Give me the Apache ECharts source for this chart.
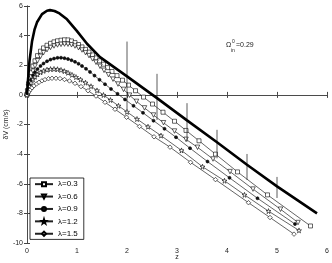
<!DOCTYPE html>
<html><head><meta charset="utf-8">
<script src="https://cdn.jsdelivr.net/npm/echarts@6/dist/echarts.min.js"></script>
<style>html,body{margin:0;padding:0;background:#fff}#c{width:332px;height:263px}</style>
</head><body><div id="c"></div>
<script>
// thick reference curve (no markers)
var zT = [0, 0.02, 0.05, 0.1, 0.15, 0.2, 0.3, 0.4, 0.46, 0.55, 0.65, 0.8, 1.0, 1.2, 1.46, 2.0, 2.6, 3.2, 3.8, 4.4, 5.0, 5.8];
var vT = [0, 1.0, 2.3, 3.6, 4.4, 4.9, 5.45, 5.68, 5.72, 5.66, 5.5, 5.1, 4.3, 3.45, 2.55, 1.25, -0.22, -1.72, -3.2, -4.72, -6.18, -8.0];
// lambda = 0.3
var z1 = [0, 0.01, 0.03, 0.05, 0.08, 0.12, 0.16, 0.21, 0.27, 0.33, 0.4, 0.47, 0.54, 0.61, 0.68, 0.75, 0.82, 0.89, 0.96, 1.03, 1.1, 1.17, 1.24, 1.31, 1.38, 1.45, 1.53, 1.61, 1.7, 1.8, 1.91, 2.03, 2.17, 2.33, 2.51, 2.72, 2.95, 3.18, 3.44, 3.77, 4.21, 4.81, 5.67];
var v1 = [0, 0.3, 0.75, 1.1, 1.5, 1.95, 2.3, 2.65, 2.95, 3.17, 3.35, 3.48, 3.58, 3.65, 3.69, 3.72, 3.71, 3.64, 3.53, 3.4, 3.24, 3.07, 2.89, 2.7, 2.5, 2.3, 2.07, 1.84, 1.58, 1.3, 0.99, 0.66, 0.28, -0.15, -0.62, -1.17, -1.78, -2.4, -3.1, -4.0, -5.2, -6.75, -8.85];
// lambda = 0.6
var z2 = [0, 0.01, 0.03, 0.05, 0.08, 0.12, 0.16, 0.21, 0.27, 0.33, 0.4, 0.47, 0.54, 0.61, 0.68, 0.75, 0.82, 0.89, 0.96, 1.03, 1.1, 1.17, 1.24, 1.31, 1.38, 1.46, 1.54, 1.63, 1.72, 1.82, 1.93, 2.05, 2.19, 2.35, 2.53, 2.73, 2.95, 3.18, 3.41, 3.72, 4.06, 4.52, 5.07, 5.42];
var v2 = [0, 0.22, 0.55, 0.85, 1.2, 1.6, 1.95, 2.3, 2.6, 2.85, 3.05, 3.2, 3.3, 3.37, 3.41, 3.43, 3.42, 3.38, 3.3, 3.18, 3.03, 2.85, 2.65, 2.43, 2.2, 1.93, 1.66, 1.36, 1.06, 0.73, 0.37, -0.02, -0.44, -0.88, -1.36, -1.88, -2.44, -3.0, -3.54, -4.33, -5.18, -6.36, -7.72, -8.62];
// lambda = 0.9
var z3 = [0, 0.01, 0.03, 0.05, 0.08, 0.12, 0.16, 0.21, 0.27, 0.33, 0.4, 0.47, 0.54, 0.61, 0.68, 0.75, 0.82, 0.89, 0.96, 1.03, 1.1, 1.18, 1.26, 1.35, 1.45, 1.56, 1.68, 1.81, 1.96, 2.13, 2.32, 2.53, 2.75, 2.98, 3.26, 3.61, 4.05, 4.61, 5.36];
var v3 = [0, 0.2, 0.5, 0.75, 1.02, 1.3, 1.52, 1.74, 1.95, 2.12, 2.27, 2.38, 2.45, 2.5, 2.51, 2.48, 2.42, 2.34, 2.23, 2.1, 1.95, 1.76, 1.55, 1.3, 1.02, 0.72, 0.4, 0.07, -0.31, -0.74, -1.21, -1.74, -2.29, -2.86, -3.6, -4.5, -5.6, -6.98, -8.72];
// lambda = 1.2
var z4 = [0, 0.01, 0.03, 0.05, 0.08, 0.12, 0.16, 0.21, 0.27, 0.33, 0.4, 0.47, 0.54, 0.61, 0.68, 0.75, 0.82, 0.9, 0.98, 1.07, 1.17, 1.28, 1.4, 1.53, 1.67, 1.83, 2.0, 2.2, 2.42, 2.68, 3.09, 3.51, 3.95, 4.35, 4.83, 5.44];
var v4 = [0, 0.14, 0.38, 0.58, 0.82, 1.05, 1.22, 1.38, 1.52, 1.62, 1.7, 1.74, 1.75, 1.73, 1.68, 1.6, 1.49, 1.35, 1.2, 1.03, 0.82, 0.58, 0.3, -0.01, -0.35, -0.74, -1.15, -1.63, -2.15, -2.75, -3.75, -4.85, -5.8, -6.75, -7.85, -9.15];
// lambda = 1.5
var z5 = [0, 0.02, 0.04, 0.07, 0.1, 0.14, 0.19, 0.24, 0.3, 0.36, 0.43, 0.5, 0.58, 0.66, 0.75, 0.85, 0.96, 1.08, 1.22, 1.38, 1.56, 1.76, 1.99, 2.25, 2.54, 2.86, 3.27, 3.77, 4.43, 4.86, 5.34];
var v5 = [0, 0.12, 0.22, 0.36, 0.48, 0.61, 0.74, 0.85, 0.95, 1.03, 1.09, 1.12, 1.12, 1.1, 1.04, 0.94, 0.78, 0.56, 0.28, -0.08, -0.5, -0.97, -1.51, -2.13, -2.83, -3.53, -4.55, -5.72, -7.28, -8.28, -9.4];
// vertical bars on the thick curve
var zE = [2.0, 2.6, 3.2, 3.8, 4.4, 5.0];
var eLo = [-1.01, -1.69, -3.16, -4.28, -5.74, -6.96];
var eHi = [3.6, 1.42, -0.56, -2.36, -3.99, -5.54];

var names = ['λ=0.3', 'λ=0.6', 'λ=0.9', 'λ=1.2', 'λ=1.5'];
var xTicks = [0, 1, 2, 3, 4, 5, 6];
var yTicks = [-10, -8, -6, -4, -2, 0, 2, 4, 6];

function pairs(z, v) { return z.map(function (x, i) { return [x, v[i]]; }); }
var starPath = 'path://M50,0 L61,35 L98,35 L68,57 L79,91 L50,70 L21,91 L32,57 L2,35 L39,35 Z';
var symbols = ['rect', ['triangle', 180], 'circle', starPath, 'diamond'];
var sizes = [4, 4.5, 3, 5, 4.5];
var fills = ['#fff', '#fff', '#111', '#fff', '#fff'];
var zs = [z1, z2, z3, z4, z5], vs = [v1, v2, v3, v4, v5];

var font = 'Liberation Sans';
var series = [];
series.push({
  type: 'line', name: 'thick', data: pairs(zT, vT), showSymbol: false, symbol: 'none',
  lineStyle: { color: '#000', width: 2.6 }, z: 5, silent: true
});
for (var i = 0; i < 5; i++) {
  var s = symbols[i];
  series.push({
    type: 'line', name: names[i], data: pairs(zs[i], vs[i]),
    symbol: Array.isArray(s) ? s[0] : s, symbolRotate: Array.isArray(s) ? s[1] : 0,
    symbolSize: sizes[i], showAllSymbol: true,
    lineStyle: { color: '#222', width: 0.7 },
    itemStyle: { color: fills[i], borderColor: '#000', borderWidth: 0.6 },
    z: 3
  });
}
series.push({
  type: 'custom', name: 'bars', data: zE.map(function (z, i) { return [z, eLo[i], eHi[i]]; }),
  encode: { x: 0, y: [1, 2] },
  renderItem: function (params, api) {
    var a = api.coord([api.value(0), api.value(1)]);
    var b = api.coord([api.value(0), api.value(2)]);
    return { type: 'line', shape: { x1: a[0], y1: a[1], x2: b[0], y2: b[1] }, style: { stroke: '#333', lineWidth: 0.8 } };
  }, z: 4
});

var axText = { fontFamily: font, fontSize: 7, color: '#222' };
var chart = echarts.init(document.getElementById('c'), null, { renderer: 'canvas' });
chart.setOption({
  animation: false,
  backgroundColor: '#fff',
  grid: { left: 27, right: 5, top: 6, bottom: 20, containLabel: false, outerBoundsMode: 'none' },
  xAxis: [
    { type: 'value', min: xTicks[0], max: xTicks[xTicks.length - 1], interval: 1,
      name: 'z', nameLocation: 'middle', nameGap: 11, nameMoveOverlap: false, nameTextStyle: axText,
      axisLine: { lineStyle: { color: '#444', width: 0.8 } },
      axisTick: { inside: true, length: 3, lineStyle: { color: '#444' } },
      axisLabel: Object.assign({ margin: 5 }, axText), splitLine: { show: false } },
    { type: 'value', position: 'top', min: xTicks[0], max: xTicks[xTicks.length - 1], interval: 1,
      axisLine: { lineStyle: { color: '#444', width: 0.8 } },
      axisTick: { inside: true, length: 3, lineStyle: { color: '#444' } },
      axisLabel: { show: false }, splitLine: { show: false } }
  ],
  yAxis: [
    { type: 'value', min: yTicks[0], max: yTicks[yTicks.length - 1], interval: 2,
      name: 'δV (cm/s)', nameLocation: 'middle', nameGap: 17, nameMoveOverlap: false, nameTextStyle: axText,
      axisLine: { lineStyle: { color: '#444', width: 0.8 } },
      axisTick: { inside: true, length: 3, lineStyle: { color: '#444' } },
      axisLabel: Object.assign({ margin: 4 }, axText), splitLine: { show: false } },
    { type: 'value', position: 'right', min: yTicks[0], max: yTicks[yTicks.length - 1], interval: 2,
      axisLine: { show: true, lineStyle: { color: '#444', width: 0.8 } },
      axisTick: { show: true, inside: true, length: 3, lineStyle: { color: '#444' } },
      axisLabel: { show: false }, splitLine: { show: false } }
  ],
  legend: {
    data: names, orient: 'vertical', left: 30, top: 178,
    itemWidth: 18, itemHeight: 5, itemGap: 3.1,
    padding: [1.5, 6, 1, 4],
    borderColor: '#000', borderWidth: 0.8, backgroundColor: '#fff',
    textStyle: { fontFamily: font, fontSize: 8, color: '#000', lineHeight: 9.3 }
  },
  graphic: [
    { type: 'text', left: 226, top: 42, style: { text: 'Ω', font: '7px "Liberation Sans"', fill: '#222' } },
    { type: 'text', left: 232, top: 39, style: { text: '0', font: '5px "Liberation Sans"', fill: '#222' } },
    { type: 'text', left: 231, top: 48, style: { text: 'in', font: '5px "Liberation Sans"', fill: '#222' } },
    { type: 'text', left: 236, top: 42, style: { text: '=0.29', font: '7px "Liberation Sans"', fill: '#222' } }
  ],
  series: series
});
</script></body></html>
